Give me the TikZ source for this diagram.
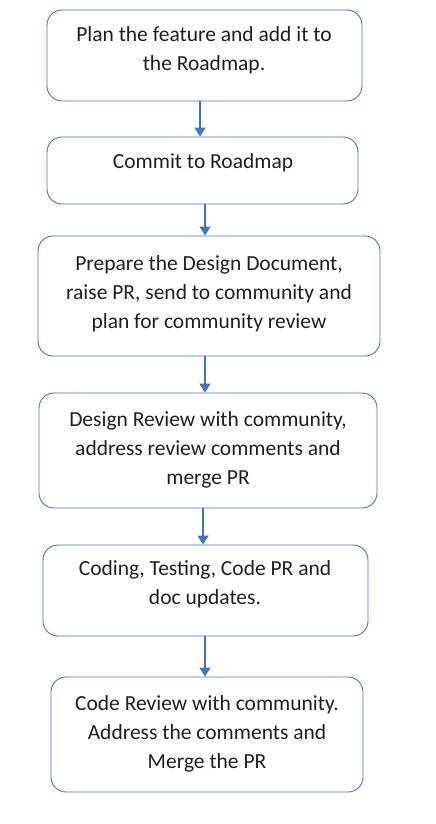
\documentclass[tikz,border=0pt]{standalone}
\usepackage{fontspec}
\setmainfont{Carlito}
\usetikzlibrary{arrows.meta}
\definecolor{officeblue}{HTML}{4472C4}

\begin{document}
\begin{tikzpicture}[x=1pt,y=-1pt,
    stepbox/.style={draw=officeblue,line width=0.9pt,rounded corners=15pt,fill=white},
    steptext/.style={align=center,font=\fontsize{21.5}{29}\selectfont,text=black!88},
    flow/.style={draw=officeblue,line width=1.3pt,-{Triangle[width=11pt,length=9pt]}}]
\useasboundingbox (0,0) rectangle (436,824);
% the six steps
\node[stepbox,minimum width=315pt,minimum height=91pt] (plan) at (204.5,55.5) {};
\node[stepbox,minimum width=311pt,minimum height=67pt] (commit) at (202.5,170.5) {};
\node[stepbox,minimum width=342pt,minimum height=120pt] (design) at (209,296) {};
\node[stepbox,minimum width=338pt,minimum height=115pt] (review) at (208,450.5) {};
\node[stepbox,minimum width=325pt,minimum height=91pt] (coding) at (205.5,590.5) {};
\node[stepbox,minimum width=312pt,minimum height=115pt] (codereview) at (207,734.5) {};
% texts
\node[steptext] (plantext) at (204,50) {Plan the feature and add it to\\the Roadmap.};
\node[steptext] (committext) at (203,163) {Commit to Roadmap};
\node[steptext] (designtext) at (209,293.5) {Prepare the Design Document,\\raise PR, send to community and\\plan for community review};
\node[steptext] (reviewtext) at (208,450) {Design Review with community,\\address review comments and\\merge PR};
\node[steptext] (codingtext) at (205,584.5) {Coding, Testing, Code PR and\\doc updates.};
\node[steptext] (codereviewtext) at (207,734) {Code Review with community.\\Address the comments and\\Merge the PR};
% arrows
\draw[flow] (plan.south -| 200,0) -- (commit.north -| 200,0);
\draw[flow] (commit.south -| 205,0) -- (design.north -| 205,0);
\draw[flow] (design.south -| 205,0) -- (review.north -| 205,0);
\draw[flow] (review.south -| 203,0) -- (coding.north -| 203,0);
\draw[flow] (coding.south -| 205,0) -- (codereview.north -| 205,0);
\end{tikzpicture}
\end{document}
